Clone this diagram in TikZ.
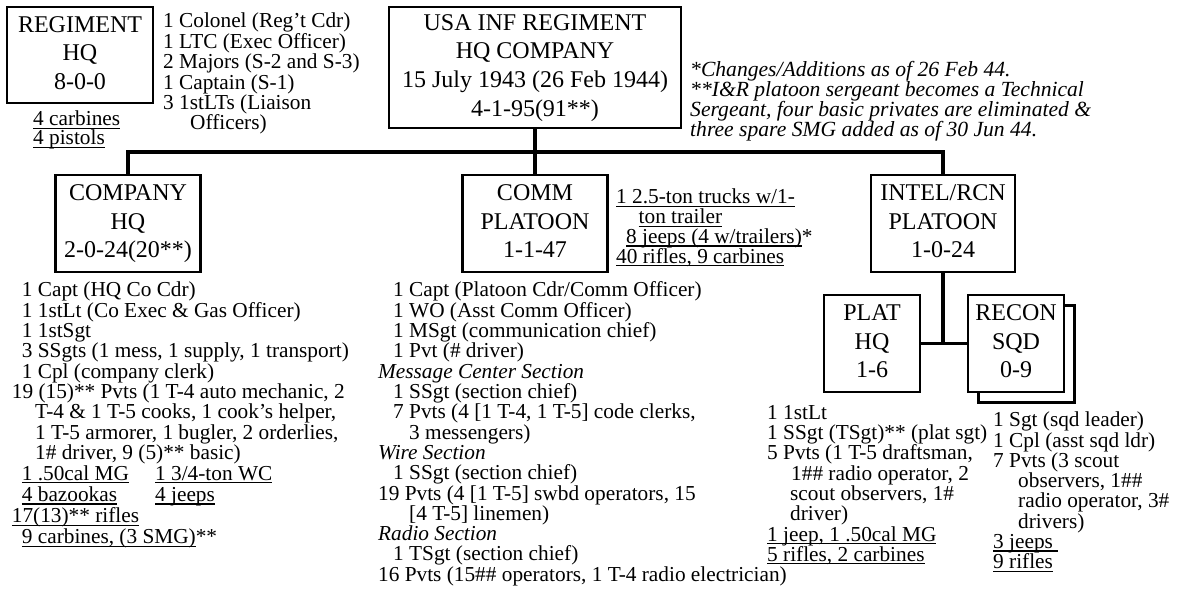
\documentclass[tikz,border=0pt]{standalone}
\usepackage{fontspec}
\setmainfont{Liberation Serif}
\newlength\ulw
\newcommand\ulin[1]{\settowidth{\ulw}{#1}\rlap{\rule[-3pt]{\ulw}{1.1pt}}#1}
\newcommand\lst[2]{\vtop{\baselineskip=#1\lineskiplimit=-100pt\lineskip=0pt\halign{##\hfil\cr#2\crcr}}}
\newcommand\btxt[1]{\begin{tabular}{@{}c@{}}#1\end{tabular}}
\newcommand\boxfont{\fontsize{24}{28.7}\selectfont}
\newcommand\lstfont{\fontsize{21.3}{20}\selectfont}
\newcommand\xs{\noalign{\vskip0.8pt}}
\tikzset{
  box/.style={draw, line width=2.5pt, inner sep=0pt, fill=white, font=\boxfont},
  conn/.style={line width=3.4pt},
  lstnode/.style={inner sep=0pt, anchor=base west, font=\lstfont},
}
\begin{document}
\begin{tikzpicture}[x=1pt,y=-1pt]
\useasboundingbox (0,0) rectangle (1177,601);
\fill[white] (0,0) rectangle (1177,601);

% boxes
\node[box, minimum width=146pt, minimum height=96pt] (rhq) at (80,55) {\btxt{REGIMENT\\HQ\\8-0-0}};
\node[box, minimum width=292pt, minimum height=121pt] (main) at (535,67.5) {\btxt{USA INF REGIMENT\\HQ COMPANY\\15 July 1943 (26 Feb 1944)\\4-1-95(91**)}};
\node[box, minimum width=145pt, minimum height=97pt] (co) at (128,223.5) {\btxt{COMPANY\\HQ\\2-0-24(20**)}};
\node[box, minimum width=145pt, minimum height=97pt] (comm) at (535,223.5) {\btxt{COMM\\PLATOON\\1-1-47}};
\node[box, minimum width=144pt, minimum height=97pt] (intel) at (943,223.5) {\btxt{INTEL/RCN\\PLATOON\\1-0-24}};
\node[box, minimum width=96pt, minimum height=97pt] (plat) at (872,343.5) {\btxt{PLAT\\HQ\\1-6}};
\node[box, minimum width=96pt, minimum height=97pt] (reconsh) at (1026.5,354) {};
\node[box, minimum width=96pt, minimum height=97pt] (recon) at (1016,343.5) {\btxt{RECON\\SQD\\0-9}};

% connectors
\coordinate (busy) at (0,152);
\draw[conn] (co.north) -- (co.north |- busy) -- (intel.north |- busy) -- (intel.north);
\draw[conn] (main.south) -- (comm.north);
\draw[conn] (intel.south) -- (intel.south |- plat.east);
\draw[conn] (plat.east) -- (recon.west);

% texts
\node[lstnode] (rhqwpn) at (33,126) {\lst{19pt}{\ulin{4 carbines}\cr\ulin{4 pistols}\cr}};

\node[lstnode] (rhqlist) at (163,28) {\lst{20.4pt}{%
1 Colonel (Reg't Cdr)\cr
1 LTC (Exec Officer)\cr
2 Majors (S-2 and S-3)\cr
1 Captain (S-1)\cr
3 1stLTs (Liaison\cr
\hskip27pt Officers)\cr}};

\node[lstnode, font=\fontsize{21.6}{20}\selectfont\itshape] (note) at (690,77) {\lst{20pt}{%
*Changes/Additions as of 26 Feb 44.\cr
**I\&R platoon sergeant becomes a Technical\cr
Sergeant, four basic privates are eliminated \&\cr
three spare SMG added as of 30 Jun 44.\cr}};

\node[lstnode] (colist) at (11.7,297) {\lst{20.3pt}{%
\hskip10pt 1 Capt (HQ Co Cdr)\cr
\hskip10pt 1 1stLt (Co Exec \& Gas Officer)\cr
\hskip10pt 1 1stSgt\cr
\hskip10pt 3 SSgts (1 mess, 1 supply, 1 transport)\cr
\hskip10pt 1 Cpl (company clerk)\cr
19 (15)** Pvts (1 T-4 auto mechanic, 2\cr
\hskip23.3pt T-4 \& 1 T-5 cooks, 1 cook's helper,\cr
\hskip23.3pt 1 T-5 armorer, 1 bugler, 2 orderlies,\cr
\hskip23.3pt 1\# driver, 9 (5)** basic)\cr\xs
\hbox to 143.3pt{\hskip10pt\ulin{1 .50cal MG}\hfil}\ulin{1 3/4-ton WC}\cr\xs
\hbox to 143.3pt{\hskip10pt\ulin{4 bazookas}\hfil}\ulin{4 jeeps}\cr\xs
\ulin{17(13)** rifles}\cr\xs
\hskip10pt\ulin{9 carbines, (3 SMG)}**\cr}};

\node[lstnode] (commeq) at (616,204) {\lst{19.8pt}{%
\ulin{1 2.5-ton trucks w/1-}\cr
\hskip22.5pt\ulin{ton trailer}\cr
\hskip10pt\ulin{8 jeeps (4 w/trailers)}*\cr
\ulin{40 rifles, 9 carbines}\cr}};

\node[lstnode] (commlist) at (378,297) {\lst{20.3pt}{%
\hskip15pt 1 Capt (Platoon Cdr/Comm Officer)\cr
\hskip15pt 1 WO (Asst Comm Officer)\cr
\hskip15pt 1 MSgt (communication chief)\cr
\hskip15pt 1 Pvt (\# driver)\cr
\textit{Message Center Section}\cr
\hskip15pt 1 SSgt (section chief)\cr
\hskip15pt 7 Pvts (4 [1 T-4, 1 T-5] code clerks,\cr
\hskip31pt 3 messengers)\cr
\textit{Wire Section}\cr
\hskip15pt 1 SSgt (section chief)\cr
19 Pvts (4 [1 T-5] swbd operators, 15\cr
\hskip31pt [4 T-5] linemen)\cr
\textit{Radio Section}\cr
\hskip15pt 1 TSgt (section chief)\cr
16 Pvts (15\#\# operators, 1 T-4 radio electrician)\cr}};

\node[lstnode] (platlist) at (767,419.3) {\lst{20.3pt}{%
1 1stLt\cr
1 SSgt (TSgt)** (plat sgt)\cr
5 Pvts (1 T-5 draftsman,\cr
\hskip24pt 1\#\# radio operator, 2\cr
\hskip23pt scout observers, 1\#\cr
\hskip23pt driver)\cr
\ulin{1 jeep, 1 .50cal MG}\cr
\ulin{5 rifles, 2 carbines}\cr}};

\node[lstnode] (reconlist) at (993,426.7) {\lst{20.3pt}{%
1 Sgt (sqd leader)\cr
1 Cpl (asst sqd ldr)\cr
7 Pvts (3 scout\cr
\hskip25pt observers, 1\#\#\cr
\hskip25pt radio operator, 3\#\cr
\hskip25pt drivers)\cr
\ulin{3 jeeps\ }\cr
\ulin{9 rifles}\cr}};
\end{tikzpicture}
\end{document}
